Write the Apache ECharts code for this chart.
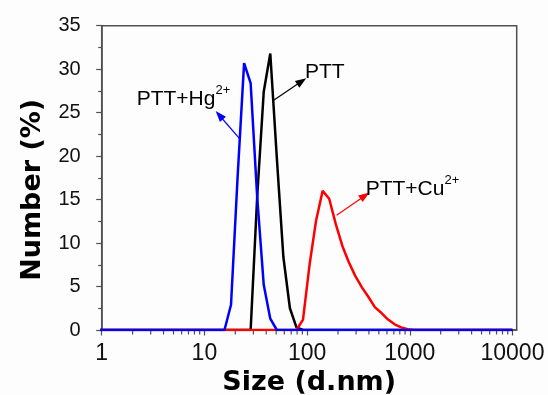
<!DOCTYPE html>
<html>
<head>
<meta charset="utf-8">
<script src="https://cdn.jsdelivr.net/npm/echarts@6/dist/echarts.min.js"></script>
<style>
html,body{margin:0;padding:0;background:#fdfdfd;}
#chart{width:548px;height:395px;}
</style>
</head>
<body>
<div id="chart"></div>
<script>
// Size bins (d.nm)
const sizes = [0.9649, 1.117, 1.294, 1.499, 1.736, 2.010, 2.328, 2.696, 3.122, 3.615,
  4.187, 4.849, 5.615, 6.503, 7.531, 8.721, 10.10, 11.70, 13.54, 15.69,
  18.17, 21.04, 24.36, 28.21, 32.67, 37.84, 43.82, 50.75, 58.77, 68.06,
  78.82, 91.28, 105.7, 122.4, 141.8, 164.2, 190.1, 220.2, 255.0, 295.3,
  342.0, 396.1, 458.7, 531.2, 615.1, 712.4, 825.0, 955.4, 1106, 1281,
  1484, 1718, 1990, 2305, 2669, 3091, 3580, 4145, 4801, 5560,
  6439, 7456, 8635, 10000];

// Number (%) per bin
const pttValues = [0, 0, 0, 0, 0, 0, 0, 0, 0, 0,
  0, 0, 0, 0, 0, 0, 0, 0, 0, 0,
  0, 0, 0, 0, 15.3, 27.4, 31.8, 19.8, 8.4, 2.5,
  0.3, 0, 0, 0, 0, 0, 0, 0, 0, 0,
  0, 0, 0, 0, 0, 0, 0, 0, 0, 0,
  0, 0, 0, 0, 0, 0, 0, 0, 0, 0,
  0, 0, 0, 0];
const cuValues = [0, 0, 0, 0, 0, 0, 0, 0, 0, 0,
  0, 0, 0, 0, 0, 0, 0, 0, 0, 0,
  0, 0, 0, 0, 0, 0, 0, 0, 0, 0,
  0, 1.2, 7.5, 12.6, 16.0, 15.1, 12.2, 9.7, 7.8, 6.2,
  4.9, 3.8, 2.6, 1.95, 1.2, 0.65, 0.3, 0.1, 0, 0,
  0, 0, 0, 0, 0, 0, 0, 0, 0, 0,
  0, 0, 0, 0];
const hgValues = [0, 0, 0, 0, 0, 0, 0, 0, 0, 0,
  0, 0, 0, 0, 0, 0, 0, 0, 0, 0,
  2.9, 17.5, 30.7, 28.4, 15.3, 5.2, 1.3, 0, 0, 0,
  0, 0, 0, 0, 0, 0, 0, 0, 0, 0,
  0, 0, 0, 0, 0, 0, 0, 0, 0, 0,
  0, 0, 0, 0, 0, 0, 0, 0, 0, 0,
  0, 0, 0, 0];

// Axis ticks
const xMajorTicks = [1, 10, 100, 1000, 10000];
const xMinorTicks = [2, 3, 4, 5, 6, 7, 8, 9, 20, 30, 40, 50, 60, 70, 80, 90,
  200, 300, 400, 500, 600, 700, 800, 900, 2000, 3000, 4000, 5000, 6000, 7000, 8000, 9000];
const yTicks = [0, 5, 10, 15, 20, 25, 30, 35];

// Annotations (data coordinates)
const pttLabelAt = [95.4, 29.62];
const hgLabelAt = [2.19, 26.83];
const cuLabelAt = [372, 16.45];
const pttArrow = [[46.9, 26.4], [88.6, 28.6]];
const hgArrow = [[21.9, 22.05], [13.97, 24.7]];
const cuArrow = [[194, 13.2], [366, 15.45]];

const pair = (vals) => sizes.map((s, i) => [s, vals[i]]);
const axisColor = '#505050';
const labelFont = 'Liberation Sans, Arial, sans-serif';
const rich = {
  m: {fontSize: 21, fontFamily: labelFont, color: '#000', lineHeight: 21, verticalAlign: 'bottom'},
  s: {fontSize: 13, fontFamily: labelFont, color: '#000', lineHeight: 13, verticalAlign: 'top'},
  z: {fontSize: 13, lineHeight: 26, width: 0}
};
function annot(color, labelAt, text, arrow) {
  return {
    markPoint: {
      silent: true, animation: false,
      symbol: 'circle', symbolSize: 0,
      label: {show: true, position: 'right', distance: 0, formatter: text, rich: rich},
      data: [{coord: labelAt}]
    },
    markLine: {
      silent: true, animation: false,
      symbol: ['none', 'triangle'], symbolSize: [8, 11],
      label: {show: false},
      lineStyle: {color: color, width: 1.2, type: 'solid'},
      data: [[{coord: arrow[0]}, {coord: arrow[1]}]]
    }
  };
}
function lineSeries(name, color, vals, ann) {
  return Object.assign({
    name: name, type: 'line', data: pair(vals),
    xAxisIndex: 0, yAxisIndex: 0,
    showSymbol: false, symbol: 'none', animation: false,
    lineStyle: {color: color, width: 2.5},
    itemStyle: {color: color}
  }, ann);
}

const chart = echarts.init(document.getElementById('chart'), null, {renderer: 'canvas'});
chart.setOption({
  backgroundColor: '#fdfdfd',
  animation: false,
  grid: {left: 101.7, right: 31.3, top: 25.7, bottom: 65, show: true,
    containLabel: false, outerBoundsMode: 'none',
    borderColor: axisColor, borderWidth: 1.5, backgroundColor: 'transparent'},
  xAxis: {
    type: 'log', logBase: 10, min: 1, max: 11000, position: 'bottom',
    name: 'Size (d.nm)', nameLocation: 'middle', nameGap: 36,
    nameTextStyle: {fontSize: 27, fontWeight: 'bold', fontFamily: 'DejaVu Sans', color: '#000'},
    axisLine: {show: true, lineStyle: {color: axisColor, width: 1.5}},
    axisTick: {show: true, inside: false, length: 5.5, customValues: xMajorTicks, lineStyle: {color: axisColor, width: 1.2}},
    axisLabel: {show: true, customValues: xMajorTicks, margin: 12, fontSize: 23, fontFamily: labelFont, color: '#111',
      formatter: (v) => String(Math.round(v))},
    splitLine: {show: false}
  },
  yAxis: {
    type: 'value', min: 0, max: 35, interval: 5,
    name: 'Number (%)', nameLocation: 'middle', nameGap: 55,
    nameTextStyle: {fontSize: 27, fontWeight: 'bold', fontFamily: 'DejaVu Sans', color: '#000', padding: [0, 24, 0, 0]},
    axisLine: {show: true, lineStyle: {color: axisColor, width: 1.5}},
    axisTick: {show: true, inside: false, length: 5.5, customValues: yTicks, lineStyle: {color: axisColor, width: 1.2}},
    minorTick: {show: true, splitNumber: 2, length: 3.5, lineStyle: {color: axisColor, width: 1.2}},
    axisLabel: {margin: 21, fontSize: 20, fontFamily: labelFont, color: '#111', customValues: yTicks},
    splitLine: {show: false}
  },
  series: [
    {
      name: 'xMinorTicks', type: 'custom', silent: true, animation: false, clip: false, z: 1,
      data: xMinorTicks.map((v) => [v, 0]),
      renderItem: function (params, api) {
        const p = api.coord([api.value(0), api.value(1)]);
        return {type: 'line', shape: {x1: p[0], y1: p[1] + 0.75, x2: p[0], y2: p[1] + 4.5},
          style: {stroke: axisColor, lineWidth: 1.2}};
      }
    },
    lineSeries('PTT', '#000000', pttValues, annot('#000000', pttLabelAt, '{m|PTT}', pttArrow)),
    lineSeries('PTT+Cu2+', '#ff0000', cuValues, annot('#ff0000', cuLabelAt, '{m|PTT+Cu}{s|2+}{z|}', cuArrow)),
    lineSeries('PTT+Hg2+', '#0000ff', hgValues, annot('#0000ff', hgLabelAt, '{m|PTT+Hg}{s|2+}{z|}', hgArrow))
  ]
});
</script>
</body>
</html>
